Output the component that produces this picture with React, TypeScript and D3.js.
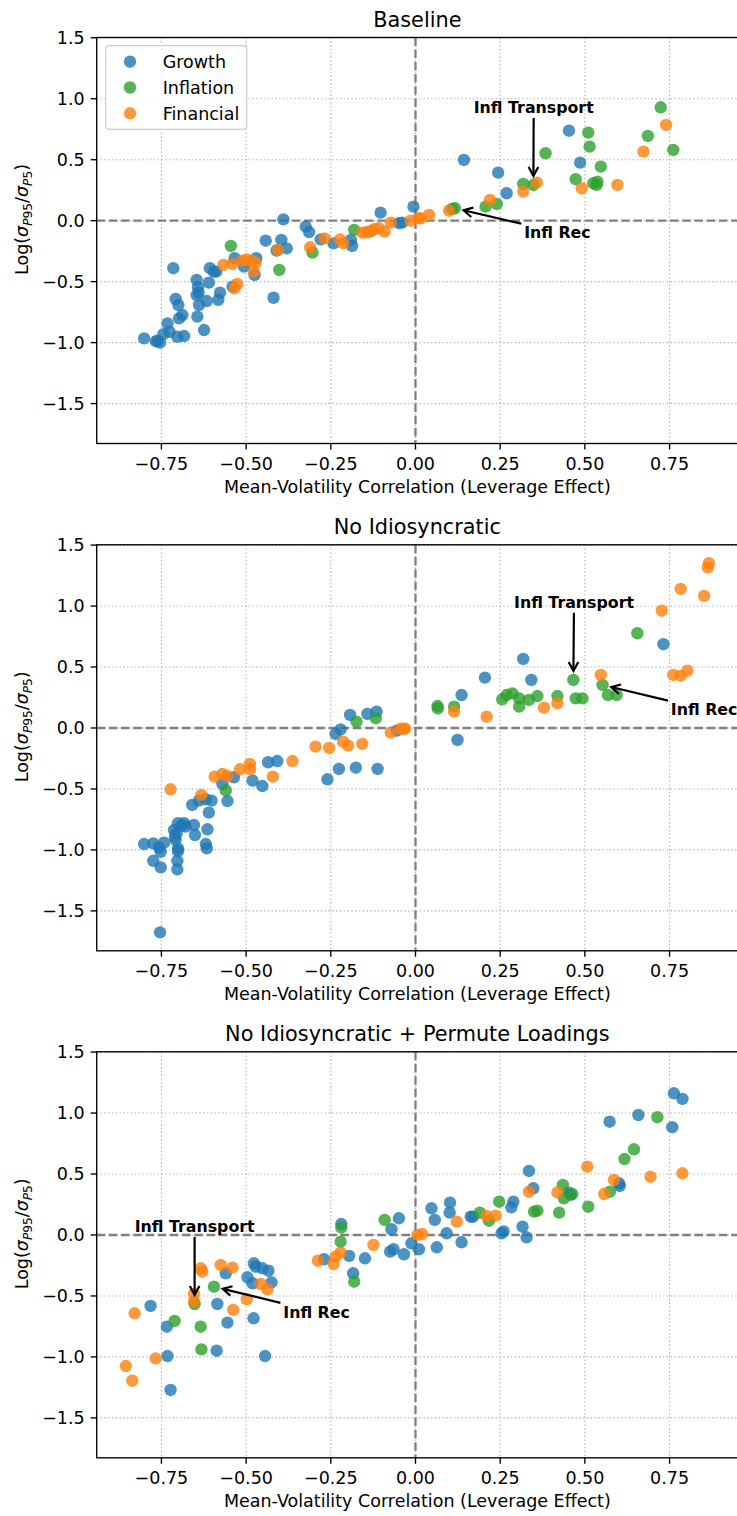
import React from 'react';
import * as d3 from 'd3';

type Pt = [number, number];

const groups = ['Growth', 'Inflation', 'Financial'];
const groupColors = ['#1f77b4', '#2ca02c', '#ff7f0e'];
const panelTitles = ['Baseline', 'No Idiosyncratic', 'No Idiosyncratic + Permute Loadings'];
const xTicks = [-0.75, -0.5, -0.25, 0, 0.25, 0.5, 0.75];
const yTicks = [-1.5, -1, -0.5, 0, 0.5, 1, 1.5];
const xAxisLabel = 'Mean-Volatility Correlation (Leverage Effect)';

// ---- Panel 1: Baseline ----
const baselineGrowth: Pt[] = [
  [-0.006, 0.115], [-0.103, 0.066], [-0.39, 0.011], [-0.324, -0.049], [-0.314, -0.093], [-0.049, -0.02],
  [-0.039, -0.016], [-0.442, -0.164], [-0.396, -0.158], [-0.38, -0.227], [-0.41, -0.245], [-0.28, -0.153],
  [-0.242, -0.186], [-0.191, -0.158], [-0.187, -0.207], [-0.534, -0.308], [-0.47, -0.308], [-0.506, -0.377],
  [-0.475, -0.445], [-0.607, -0.39], [-0.595, -0.418], [-0.588, -0.418], [-0.715, -0.39], [-0.646, -0.486],
  [-0.61, -0.508], [-0.642, -0.546], [-0.646, -0.61], [-0.64, -0.59], [-0.54, -0.541], [-0.577, -0.59],
  [-0.582, -0.65], [-0.616, -0.659], [-0.639, -0.692], [-0.708, -0.642], [-0.7, -0.692], [-0.419, -0.632],
  [-0.688, -0.774], [-0.698, -0.801], [-0.644, -0.787], [-0.624, -0.897], [-0.732, -0.842], [-0.726, -0.911],
  [-0.744, -0.93], [-0.703, -0.952], [-0.683, -0.946], [-0.801, -0.965], [-0.762, -0.984], [-0.754, -1.0],
  [-0.766, -0.99], [0.143, 0.498], [0.244, 0.394], [0.269, 0.225], [0.453, 0.738], [0.486, 0.476],
];
const baselineInflation: Pt[] = [
  [-0.181, -0.076], [-0.545, -0.207], [-0.304, -0.262], [-0.402, -0.404], [0.116, 0.102], [0.108, 0.096],
  [0.207, 0.115], [0.24, 0.137], [0.318, 0.301], [0.348, 0.293], [0.384, 0.553], [0.51, 0.722],
  [0.514, 0.607], [0.547, 0.443], [0.473, 0.34], [0.525, 0.307], [0.537, 0.32], [0.535, 0.293],
  [0.724, 0.93], [0.686, 0.695], [0.761, 0.58],
];
const baselineFinancial: Pt[] = [
  [-0.073, -0.016], [-0.014, 0.0], [0.009, 0.02], [0.015, 0.02], [0.04, 0.047], [0.099, 0.082],
  [0.22, 0.17], [0.318, 0.238], [0.358, 0.312], [0.491, 0.266], [0.596, 0.293], [0.74, 0.785],
  [0.673, 0.566], [-0.406, -0.24], [-0.311, -0.218], [-0.268, -0.145], [-0.223, -0.153], [-0.213, -0.186],
  [-0.157, -0.098], [-0.137, -0.09], [-0.122, -0.07], [-0.108, -0.062], [-0.091, -0.09], [-0.145, -0.095],
  [-0.13, -0.085], [-0.567, -0.363], [-0.54, -0.355], [-0.511, -0.328], [-0.498, -0.317], [-0.472, -0.345],
  [-0.485, -0.33], [-0.477, -0.418], [-0.526, -0.519], [-0.534, -0.555],
];

// ---- Panel 2: No Idiosyncratic ----
const noIdioGrowth: Pt[] = [
  [-0.193, 0.107], [-0.142, 0.115], [-0.115, 0.134], [-0.221, -0.011], [-0.236, -0.049], [-0.055, -0.022],
  [-0.435, -0.281], [-0.408, -0.271], [-0.536, -0.404], [-0.481, -0.432], [-0.26, -0.421], [-0.226, -0.336],
  [-0.176, -0.326], [-0.112, -0.336], [-0.452, -0.476], [-0.57, -0.459], [-0.659, -0.631], [-0.639, -0.596],
  [-0.619, -0.584], [-0.602, -0.596], [-0.61, -0.694], [-0.555, -0.599], [-0.701, -0.781], [-0.713, -0.837],
  [-0.683, -0.781], [-0.678, -0.809], [-0.705, -0.864], [-0.654, -0.796], [-0.651, -0.878], [-0.614, -0.831],
  [-0.619, -0.952], [-0.616, -0.987], [-0.801, -0.952], [-0.774, -0.946], [-0.757, -0.979], [-0.742, -0.941],
  [-0.752, -1.015], [-0.701, -0.987], [-0.701, -1.01], [-0.774, -1.089], [-0.752, -1.143], [-0.703, -1.089],
  [-0.703, -1.16], [-0.754, -1.676], [-0.708, -0.919], [-0.71, -0.89], [-0.69, -0.8],
  [0.136, 0.27], [0.124, -0.098], [0.205, 0.413], [0.318, 0.566], [0.342, 0.394], [0.732, 0.687],
];
const noIdioInflation: Pt[] = [
  [-0.174, 0.052], [-0.117, 0.08], [-0.56, -0.511], [0.065, 0.18], [0.066, 0.16], [0.114, 0.175],
  [0.256, 0.235], [0.269, 0.27], [0.286, 0.284], [0.306, 0.243], [0.306, 0.175], [0.335, 0.23],
  [0.36, 0.262], [0.419, 0.262], [0.466, 0.394], [0.473, 0.243], [0.493, 0.243], [0.552, 0.353],
  [0.568, 0.27], [0.594, 0.27], [0.655, 0.777],
];
const noIdioFinancial: Pt[] = [
  [-0.073, -0.038], [-0.044, -0.005], [-0.031, -0.005], [-0.034, -0.008], [-0.295, -0.153], [-0.255, -0.164],
  [-0.214, -0.112], [-0.199, -0.145], [-0.157, -0.131], [-0.363, -0.271], [-0.489, -0.295], [-0.488, -0.339],
  [-0.518, -0.339], [-0.593, -0.399], [-0.57, -0.377], [-0.555, -0.394], [-0.421, -0.399], [-0.723, -0.503],
  [-0.632, -0.549], [0.114, 0.134], [0.21, 0.093], [0.379, 0.167], [0.419, 0.202], [0.547, 0.435],
  [0.727, 0.962], [0.783, 1.14], [0.852, 1.083], [0.866, 1.351], [0.863, 1.315], [0.761, 0.435],
  [0.783, 0.429], [0.803, 0.47],
];

// ---- Panel 3: No Idiosyncratic + Permute Loadings ----
const permuteGrowth: Pt[] = [
  [-0.219, 0.09], [-0.049, 0.137], [-0.071, 0.047], [-0.075, -0.137], [-0.065, -0.117], [-0.034, -0.158],
  [-0.012, -0.068], [0.01, -0.117], [-0.27, -0.199], [-0.196, -0.172], [-0.149, -0.191], [-0.184, -0.314],
  [-0.56, -0.314], [-0.477, -0.232], [-0.472, -0.26], [-0.452, -0.273], [-0.434, -0.293], [-0.496, -0.347],
  [-0.481, -0.396], [-0.425, -0.388], [-0.585, -0.566], [-0.555, -0.719], [-0.478, -0.683], [-0.782, -0.582],
  [-0.734, -0.752], [-0.587, -0.949], [-0.444, -0.993], [-0.732, -0.993], [-0.723, -1.271],
  [0.047, 0.219], [0.057, 0.123], [0.063, -0.101], [0.092, 0.014], [0.102, 0.265], [0.101, 0.183],
  [0.136, -0.06], [0.163, 0.15], [0.17, 0.15], [0.254, 0.014], [0.26, 0.03], [0.283, 0.227],
  [0.289, 0.273], [0.316, 0.068], [0.328, -0.019], [0.335, 0.525], [0.348, 0.383], [0.453, 0.347],
  [0.458, 0.33], [0.601, 0.424], [0.603, 0.402], [0.573, 0.929], [0.658, 0.984], [0.763, 1.162],
  [0.788, 1.116], [0.758, 0.884],
];
const permuteInflation: Pt[] = [
  [-0.091, 0.123], [-0.219, 0.06], [-0.221, -0.055], [-0.181, -0.383], [-0.595, -0.424], [-0.652, -0.566],
  [-0.711, -0.705], [-0.634, -0.752], [-0.632, -0.938], [0.19, 0.183], [0.217, 0.117], [0.247, 0.273],
  [0.35, 0.191], [0.36, 0.199], [0.424, 0.183], [0.435, 0.41], [0.438, 0.301], [0.463, 0.336],
  [0.51, 0.232], [0.574, 0.355], [0.617, 0.623], [0.645, 0.703], [0.714, 0.966],
];
const permuteFinancial: Pt[] = [
  [-0.124, -0.082], [0.006, 0.0], [0.02, 0.008], [-0.288, -0.211], [-0.242, -0.238], [-0.236, -0.178],
  [-0.221, -0.145], [-0.634, -0.273], [-0.629, -0.301], [-0.575, -0.246], [-0.54, -0.268], [-0.457, -0.402],
  [-0.437, -0.445], [-0.498, -0.527], [-0.654, -0.484], [-0.654, -0.547], [-0.538, -0.615], [-0.829, -0.642],
  [-0.767, -1.012], [-0.855, -1.075], [-0.836, -1.195], [0.122, 0.109], [0.21, 0.156], [0.237, 0.158],
  [0.335, 0.355], [0.419, 0.35], [0.507, 0.56], [0.557, 0.336], [0.586, 0.451], [0.694, 0.478],
  [0.788, 0.506],
];

// annotations: label, target point, text centre (data units)
type Note = { label: string; target: Pt; text: Pt };
const baselineNotes: Note[] = [
  { label: 'Infl Transport', target: [0.348, 0.293], text: [0.349, 0.932] },
  { label: 'Infl Rec', target: [0.116, 0.102], text: [0.419, -0.093] },
];
const noIdioNotes: Note[] = [
  { label: 'Infl Transport', target: [0.466, 0.394], text: [0.468, 1.036] },
  { label: 'Infl Rec', target: [0.552, 0.353], text: [0.852, 0.153] },
];
const permuteNotes: Note[] = [
  { label: 'Infl Transport', target: [-0.652, -0.566], text: [-0.652, 0.074] },
  { label: 'Infl Rec', target: [-0.595, -0.424], text: [-0.292, -0.629] },
];

const FONT = 'DejaVu Sans, Verdana, sans-serif';
const W = 737;
const H = 1516;
const LEFT = 96.7;
const PLOT_W = 641.3;
const PLOT_H = 406;
const TOPS = [37.5, 544.8, 1051.8];
const FS = 17.5;
const FS_TITLE = 20.8;
const FS_NOTE = 15.8;

export default function App() {
  const panels = [
    { title: panelTitles[0], series: [baselineGrowth, baselineInflation, baselineFinancial], notes: baselineNotes, legend: true },
    { title: panelTitles[1], series: [noIdioGrowth, noIdioInflation, noIdioFinancial], notes: noIdioNotes, legend: false },
    { title: panelTitles[2], series: [permuteGrowth, permuteInflation, permuteFinancial], notes: permuteNotes, legend: false },
  ];
  const all: Pt[] = panels.flatMap((p) => p.series.flat());
  const [xa, xb] = d3.extent(all, (d) => d[0]) as [number, number];
  const [ya, yb] = d3.extent(all, (d) => d[1]) as [number, number];
  const xm = (xb - xa) * 0.05;
  const ym = (yb - ya) * 0.05;
  const x = d3.scaleLinear().domain([xa - xm, xb + xm]).range([LEFT, LEFT + PLOT_W]);
  const fmtX = d3.format('.2f');
  const fmtY = d3.format('.1f');

  return (
    <svg width={W} height={H} style={{ position: 'absolute', left: 0, top: 0, background: '#fff' }} fontFamily={FONT}>
      <rect x={0} y={0} width={W} height={H} fill="#fff" />
      {panels.map((p, pi) => {
        const top = TOPS[pi];
        const bottom = top + PLOT_H;
        const y = d3.scaleLinear().domain([ya - ym, yb + ym]).range([bottom, top]);
        const right = LEFT + PLOT_W;
        return (
          <g key={pi}>
            {/* grid */}
            {xTicks.map((t) => (
              <line key={'gx' + t} x1={x(t)} x2={x(t)} y1={top} y2={bottom} stroke="#b0b0b0" strokeWidth={1.1} strokeDasharray="1.4 2.4" />
            ))}
            {yTicks.map((t) => (
              <line key={'gy' + t} x1={LEFT} x2={right} y1={y(t)} y2={y(t)} stroke="#b0b0b0" strokeWidth={1.1} strokeDasharray="1.4 2.4" />
            ))}
            {/* zero lines */}
            <line x1={x(0)} x2={x(0)} y1={top} y2={bottom} stroke="#808080" strokeWidth={2.3} strokeDasharray="8.5 3.7" />
            <line x1={LEFT} x2={right} y1={y(0)} y2={y(0)} stroke="#808080" strokeWidth={2.3} strokeDasharray="8.5 3.7" />
            {/* points */}
            {p.series.map((s, si) => (
              <g key={si} fill={groupColors[si]} fillOpacity={0.8}>
                {s.map((d, i) => (
                  <circle key={i} cx={x(d[0])} cy={y(d[1])} r={6.2} />
                ))}
              </g>
            ))}
            {/* spines */}
            <rect x={LEFT} y={top} width={PLOT_W} height={PLOT_H} fill="none" stroke="#000" strokeWidth={1.36} />
            {/* x ticks */}
            {xTicks.map((t) => (
              <g key={'tx' + t}>
                <line x1={x(t)} x2={x(t)} y1={bottom} y2={bottom + 6} stroke="#000" strokeWidth={1.36} />
                <text x={x(t)} y={bottom + 26.3} fontSize={FS} textAnchor="middle" fill="#000">{fmtX(t)}</text>
              </g>
            ))}
            {yTicks.map((t) => (
              <g key={'ty' + t}>
                <line x1={LEFT - 6} x2={LEFT} y1={y(t)} y2={y(t)} stroke="#000" strokeWidth={1.36} />
                <text x={LEFT - 12} y={y(t) + 6.4} fontSize={FS} textAnchor="end" fill="#000">{fmtY(t)}</text>
              </g>
            ))}
            {/* labels */}
            <text x={(LEFT + right) / 2} y={bottom + 49.5} fontSize={FS} textAnchor="middle" fill="#000">{xAxisLabel}</text>
            <text x={(LEFT + right) / 2} y={top - 10.5} fontSize={FS_TITLE} textAnchor="middle" fill="#000">{p.title}</text>
            <text transform={`translate(28, ${top + PLOT_H / 2 - 21}) rotate(-90)`} fontSize={FS} textAnchor="middle" fill="#000">
              Log(<tspan fontStyle="italic">σ</tspan>
              <tspan fontSize={12.2} dy={3.7}><tspan fontStyle="italic">P</tspan>95</tspan>
              <tspan dy={-3.7}>/</tspan>
              <tspan fontStyle="italic">σ</tspan>
              <tspan fontSize={12.2} dy={3.7}><tspan fontStyle="italic">P</tspan>5</tspan>
              <tspan dy={-3.7}>)</tspan>
            </text>
            {/* annotations */}
            {p.notes.map((n, ni) => {
              const fs = FS_NOTE;
              const cx = x(n.text[0]);
              const cy = y(n.text[1]);
              const tx = x(n.target[0]);
              const ty = y(n.target[1]);
              const halfW = (n.label.length * 0.54 * fs) / 2 + 2;
              const halfH = 11;
              const dx = tx - cx;
              const dy = ty - cy;
              const tt = Math.min(Math.abs(dx) > 1e-6 ? halfW / Math.abs(dx) : Infinity, Math.abs(dy) > 1e-6 ? halfH / Math.abs(dy) : Infinity);
              const sx = cx + dx * tt;
              const sy = cy + dy * tt;
              const len = Math.hypot(dx, dy);
              const ux = dx / len;
              const uy = dy / len;
              const ex = tx - ux * 9;
              const ey = ty - uy * 9;
              const hl = 9;
              const hw = 4.8;
              const h1x = ex - ux * hl - uy * hw;
              const h1y = ey - uy * hl + ux * hw;
              const h2x = ex - ux * hl + uy * hw;
              const h2y = ey - uy * hl - ux * hw;
              return (
                <g key={ni}>
                  <line x1={sx} y1={sy} x2={ex} y2={ey} stroke="#000" strokeWidth={2.2} />
                  <polyline points={`${h1x},${h1y} ${ex},${ey} ${h2x},${h2y}`} fill="none" stroke="#000" strokeWidth={2.2} />
                  <text x={cx} y={cy + 6} fontSize={fs} fontWeight="bold" textAnchor="middle" fill="#000">{n.label}</text>
                </g>
              );
            })}
            {/* legend */}
            {p.legend && (
              <g>
                <rect x={105.7} y={top + 8.2} width={141} height={83.6} rx={3.5} fill="#fff" fillOpacity={0.8} stroke="#cccccc" strokeWidth={1.2} />
                {groups.map((g, gi) => (
                  <g key={g}>
                    <circle cx={130} cy={top + 24.2 + gi * 25.8} r={6.2} fill={groupColors[gi]} fillOpacity={0.8} />
                    <text x={162.7} y={top + 24.2 + gi * 25.8 + 6.3} fontSize={FS} fill="#000">{g}</text>
                  </g>
                ))}
              </g>
            )}
          </g>
        );
      })}
    </svg>
  );
}
